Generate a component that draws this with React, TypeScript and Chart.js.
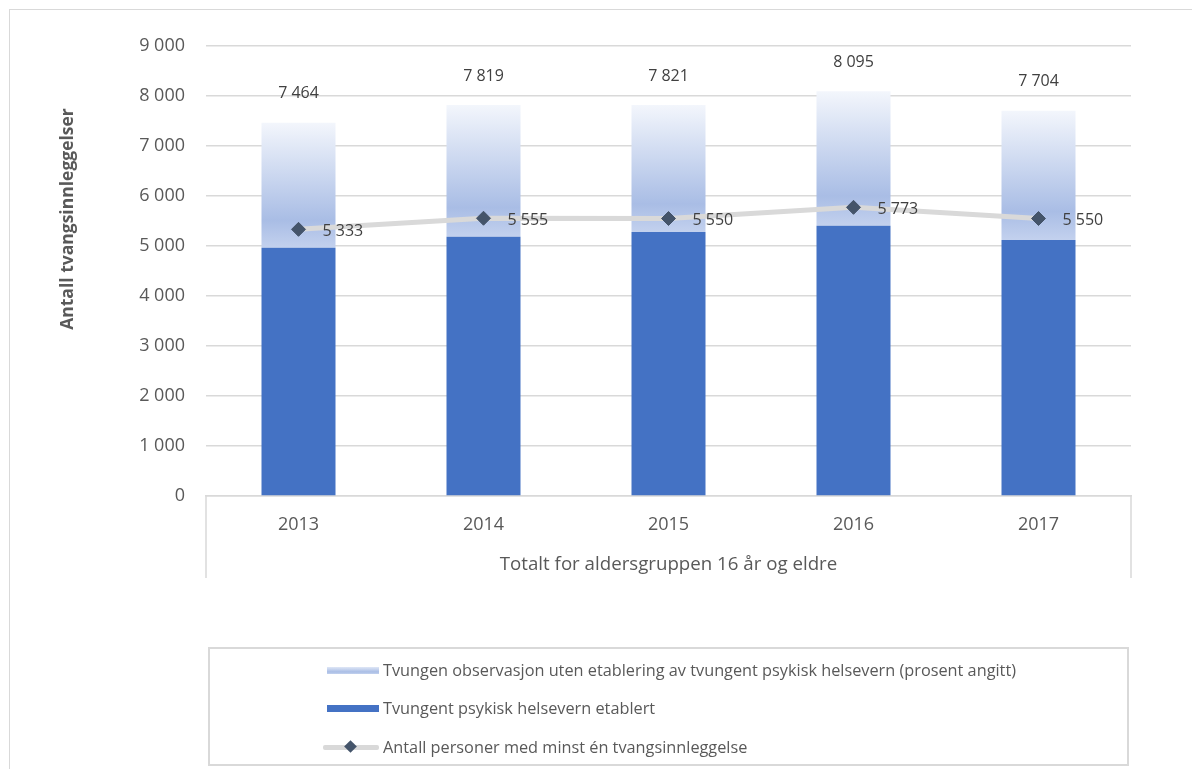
import React, { useEffect, useRef } from 'react';
import { Chart, registerables } from 'chart.js';

Chart.register(...registerables);

const years = ['2013', '2014', '2015', '2016', '2017'];
const established = [4966, 5186, 5280, 5406, 5120];
const observation = [2498, 2633, 2541, 2689, 2584];
const totals = [7464, 7819, 7821, 8095, 7704];
const persons = [5333, 5555, 5550, 5773, 5550];
const yMin = 0;
const yMax = 9000;
const yStep = 1000;

const groupLabel = 'Totalt for aldersgruppen 16 år og eldre';
const yTitle = 'Antall tvangsinnleggelser';
const legendObservation = 'Tvungen observasjon uten etablering av tvungent psykisk helsevern (prosent angitt)';
const legendEstablished = 'Tvungent psykisk helsevern etablert';
const legendPersons = 'Antall personer med minst én tvangsinnleggelse';

const FONT = '"Open Sans", "Noto Sans", sans-serif';
const GREY_TEXT = '#595959';
const GRID = '#d9d9d9';

const fmt = (n: number) => String(n).replace(/\B(?=(\d{3})+(?!\d))/g, ' ');

const customPlugin = {
  id: 'customDraw',
  afterDraw(chart: any) {
    const { ctx, chartArea } = chart;
    ctx.save();
    ctx.strokeStyle = GRID;
    ctx.lineWidth = 1.5;
    [chartArea.left, chartArea.right].forEach((x: number) => {
      ctx.beginPath();
      ctx.moveTo(x, chartArea.bottom);
      ctx.lineTo(x, chartArea.bottom + 82);
      ctx.stroke();
    });
    ctx.restore();

    ctx.save();
    ctx.translate(68, 219);
    ctx.rotate(-Math.PI / 2);
    ctx.font = `bold 17.5px ${FONT}`;
    ctx.fillStyle = GREY_TEXT;
    ctx.textAlign = 'center';
    ctx.textBaseline = 'middle';
    ctx.fillText(yTitle, 0, 0);
    ctx.restore();

    const barMeta = chart.getDatasetMeta(1);
    const lineMeta = chart.getDatasetMeta(2);
    ctx.save();
    ctx.font = `16px ${FONT}`;
    ctx.fillStyle = '#404040';
    ctx.textBaseline = 'middle';
    ctx.textAlign = 'center';
    barMeta.data.forEach((el: any, i: number) => {
      ctx.fillText(fmt(totals[i]), el.x, el.y - 29);
    });
    ctx.textAlign = 'left';
    lineMeta.data.forEach((el: any, i: number) => {
      ctx.fillText(fmt(persons[i]), el.x + 24, el.y + 2);
    });
    ctx.restore();
  },
};

export default function App() {
  const canvasRef = useRef<HTMLCanvasElement | null>(null);

  useEffect(() => {
    document.body.style.margin = '0';
    const canvas = canvasRef.current;
    if (!canvas) return;
    const chart = new Chart(canvas, {
      type: 'bar',
      data: {
        labels: years,
        datasets: [
          {
            type: 'bar',
            label: legendEstablished,
            data: established,
            backgroundColor: '#4472c4',
            stack: 'bars',
            order: 1,
            barPercentage: 0.4,
            categoryPercentage: 1,
          },
          {
            type: 'bar',
            label: legendObservation,
            data: observation,
            stack: 'bars',
            order: 2,
            barPercentage: 0.4,
            categoryPercentage: 1,
            backgroundColor: (c: any) => {
              const ch = c.chart;
              if (!ch.chartArea || c.type !== 'data') return '#b4c6e7';
              const i = c.dataIndex;
              const top = ch.scales.y.getPixelForValue(totals[i]);
              const bottom = ch.scales.y.getPixelForValue(established[i]);
              const g = ch.ctx.createLinearGradient(0, top, 0, bottom);
              g.addColorStop(0, '#f3f6fc');
              g.addColorStop(0.78, '#a9bde5');
              g.addColorStop(1, '#c3d1ee');
              return g;
            },
          },
          {
            type: 'line',
            label: legendPersons,
            data: persons,
            stack: 'line',
            order: 0,
            borderColor: GRID,
            borderWidth: 5,
            tension: 0,
            pointStyle: 'rectRot',
            pointRadius: 7,
            pointBackgroundColor: '#44546a',
            pointBorderColor: '#44546a',
            pointBorderWidth: 1,
          },
        ],
      } as any,
      options: {
        animation: false,
        responsive: false,
        maintainAspectRatio: false,
        layout: { padding: { left: 0, right: 61, top: 46, bottom: 193 } },
        plugins: {
          legend: { display: false },
          tooltip: { enabled: false },
        },
        scales: {
          x: {
            stacked: true,
            grid: { display: false, drawTicks: false },
            border: { display: true, color: GRID, width: 1.5 },
            ticks: { color: GREY_TEXT, font: { family: FONT, size: 18 }, padding: 18 },
            title: {
              display: true,
              text: groupLabel,
              color: GREY_TEXT,
              font: { family: FONT, size: 18.7 },
              padding: { top: 0, bottom: 0 },
            },
            afterFit: (s: any) => {
              s.height = 80;
            },
          },
          y: {
            stacked: true,
            min: yMin,
            max: yMax,
            ticks: {
              stepSize: yStep,
              color: GREY_TEXT,
              font: { family: FONT, size: 18 },
              padding: 21,
              callback: (v: any) => fmt(Number(v)),
            },
            grid: { color: GRID, lineWidth: 1.5, drawTicks: false },
            border: { display: false },
            afterFit: (s: any) => {
              s.width = 206;
            },
          },
        },
      } as any,
      plugins: [customPlugin],
    });
    return () => chart.destroy();
  }, []);

  const itemStyle = (centerY: number): React.CSSProperties => ({
    position: 'absolute',
    left: 113,
    top: centerY - 647 - 12,
    height: 24,
    display: 'flex',
    alignItems: 'center',
    fontFamily: FONT,
    fontSize: 16.3,
    color: GREY_TEXT,
    whiteSpace: 'nowrap',
  });

  return (
    <div style={{ position: 'relative', width: 1192, height: 769, overflow: 'hidden', background: '#fff' }}>
      <div
        style={{
          position: 'absolute',
          left: 9,
          top: 9,
          width: 1300,
          height: 900,
          border: `1.5px solid ${GRID}`,
        }}
      />
      <canvas ref={canvasRef} width={1192} height={769} style={{ position: 'absolute', left: 0, top: 0, display: 'block' }} />
      <div
        style={{
          position: 'absolute',
          left: 208,
          top: 647,
          width: 921,
          height: 119,
          border: `2px solid ${GRID}`,
          boxSizing: 'border-box',
        }}
      >
        <div style={itemStyle(668)}>
          <div style={{ width: 56, display: 'flex', justifyContent: 'flex-end', marginRight: 4 }}>
            <div style={{ width: 52, height: 7, background: 'linear-gradient(to bottom, #dfe7f6, #a9bde5 70%, #c3d1ee)' }} />
          </div>
          <span>{legendObservation}</span>
        </div>
        <div style={itemStyle(706)}>
          <div style={{ width: 56, display: 'flex', justifyContent: 'flex-end', marginRight: 4 }}>
            <div style={{ width: 52, height: 7, background: '#4472c4' }} />
          </div>
          <span>{legendEstablished}</span>
        </div>
        <div style={itemStyle(745)}>
          <div style={{ width: 56, height: 14, position: 'relative', marginRight: 4 }}>
            <div style={{ position: 'absolute', left: 0, top: 5, width: 56, height: 5, borderRadius: 2, background: GRID }} />
            <div
              style={{
                position: 'absolute',
                left: 23,
                top: 2,
                width: 9,
                height: 9,
                background: '#44546a',
                transform: 'rotate(45deg)',
              }}
            />
          </div>
          <span>{legendPersons}</span>
        </div>
      </div>
    </div>
  );
}
